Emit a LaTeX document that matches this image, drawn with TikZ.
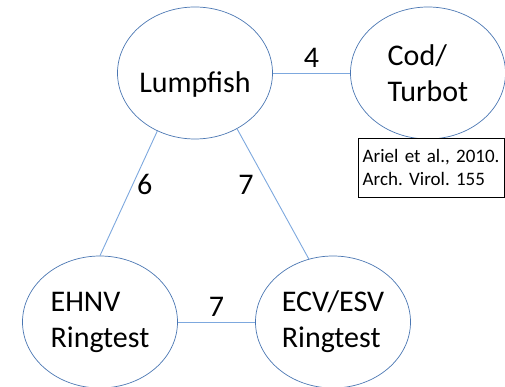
\documentclass[tikz,border=0pt]{standalone}
\usepackage{fontspec}
\setmainfont{Carlito}
\usetikzlibrary{shapes.geometric}
\definecolor{ringblue}{RGB}{74,118,178}
\definecolor{linkblue}{RGB}{125,168,222}

\begin{document}
\begin{tikzpicture}[x=1pt, y=-1pt,
    fish/.style={ellipse, draw=ringblue, line width=0.7pt, inner sep=-5pt,
        minimum width=155pt, minimum height=132pt, align=left,
        font=\fontsize{30}{36}\selectfont},
    link/.style={draw=linkblue, line width=0.9pt},
    num/.style={inner sep=0pt, font=\fontsize{30}{36}\selectfont}]
\useasboundingbox (0,0) rectangle (505,387);
\node[fish] (cod) at (428,73) {Cod/\\Turbot};
\node[fish, text height=44pt] (lump) at (195,73) {Lumpfish};
\node[fish] (ehnv) at (100,322) {EHNV\\Ringtest};
\node[fish] (ecv) at (333,322) {ECV/ESV\\Ringtest};
% reference box sits over the bottom of cod
\node[draw, fill=white, anchor=north west, align=left, text width=137pt,
    inner xsep=4.5pt, minimum height=59pt,
    font=\fontsize{19}{23}\selectfont\frenchspacing] (ref) at (358,138)
    {Ariel et al., 2010.\\Arch. Virol. 155};
\draw[link] (lump) -- node[num, above=5pt] {4} (cod);
\draw[link] (lump.237) -- node[num, pos=0.43, right=4pt] {6} (ehnv.north);
\draw[link] (lump.307) -- node[num, pos=0.43, left=14pt] {7} (ecv.111);
\draw[link] (ehnv) -- node[num, above=5pt] {7} (ecv);
\end{tikzpicture}
\end{document}
